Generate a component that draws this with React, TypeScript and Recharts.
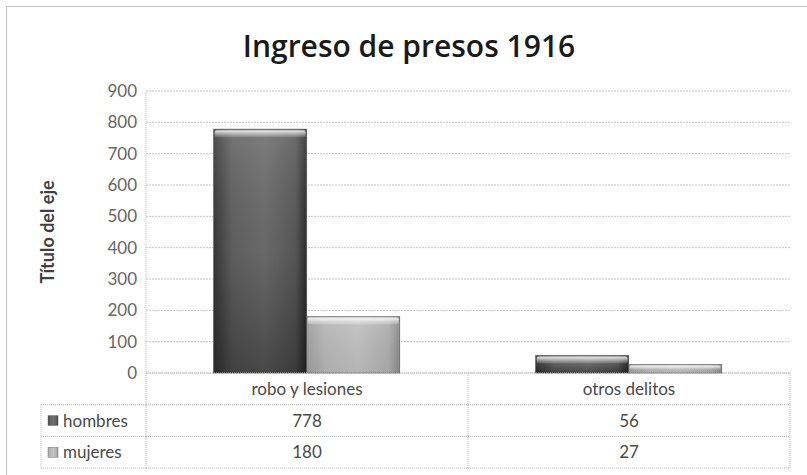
import React from "react";
import { BarChart, Bar, XAxis, YAxis, CartesianGrid } from "recharts";

const categories = ["robo y lesiones", "otros delitos"];
const hombres = [778, 56];
const mujeres = [180, 27];
const yTicks = [0, 100, 200, 300, 400, 500, 600, 700, 800, 900];

const series = [
  { key: "hombres", label: "hombres", values: hombres, grad: "gradH" },
  { key: "mujeres", label: "mujeres", values: mujeres, grad: "gradM" },
];

const data = categories.map((name, i) => ({
  name,
  hombres: hombres[i],
  mujeres: mujeres[i],
}));

const W = 807;
const H = 475;
const PLOT_LEFT = 146;
const PLOT_RIGHT = 790;
const PLOT_TOP = 91;
const PLOT_BOTTOM = 373;
const ROW_H = 31.7;
const KEY_LEFT = 41;
const CELL_W = (PLOT_RIGHT - PLOT_LEFT) / categories.length;
const FONT = "Lato, 'Open Sans', sans-serif";
const TABLE_LINE = "#b5b5b5";
const TEXT = "#4a4a4a";

function TableTick(props: any) {
  const { x, y, payload, index } = props;
  const left = x - CELL_W / 2;
  const right = x + CELL_W / 2;
  const rows = series.length + 1;
  const dash = "1 1";
  return (
    <g>
      <line x1={right} y1={y} x2={right} y2={y + rows * ROW_H} stroke={TABLE_LINE} strokeDasharray={dash} />
      {index === 0 && (
        <line x1={left} y1={y} x2={left} y2={y + rows * ROW_H} stroke={TABLE_LINE} strokeDasharray={dash} />
      )}
      {series.map((s, r) => (
        <line
          key={s.key}
          x1={left}
          y1={y + (r + 1) * ROW_H}
          x2={right}
          y2={y + (r + 1) * ROW_H}
          stroke={TABLE_LINE}
          strokeDasharray={dash}
        />
      ))}
      <line x1={left} y1={y + rows * ROW_H} x2={right} y2={y + rows * ROW_H} stroke={TABLE_LINE} strokeDasharray={dash} />
      <text x={x} y={y + ROW_H / 2} dy="0.35em" textAnchor="middle" fontSize={17} fill={TEXT} fontFamily={FONT}>
        {payload.value}
      </text>
      {series.map((s, r) => (
        <text
          key={s.key}
          x={x}
          y={y + (r + 1) * ROW_H + ROW_H / 2}
          dy="0.35em"
          textAnchor="middle"
          fontSize={17}
          fill={TEXT}
          fontFamily={FONT}
        >
          {s.values[index]}
        </text>
      ))}
      {index === 0 && (
        <g>
          <line x1={KEY_LEFT} y1={y + ROW_H} x2={left} y2={y + ROW_H} stroke={TABLE_LINE} strokeDasharray={dash} />
          <line x1={KEY_LEFT} y1={y + ROW_H} x2={KEY_LEFT} y2={y + rows * ROW_H} stroke={TABLE_LINE} strokeDasharray={dash} />
          {series.map((s, r) => {
            const cy = y + (r + 1) * ROW_H + ROW_H / 2;
            return (
              <g key={s.key}>
                <line x1={KEY_LEFT} y1={y + (r + 2) * ROW_H} x2={left} y2={y + (r + 2) * ROW_H} stroke={TABLE_LINE} strokeDasharray={dash} />
                <rect x={KEY_LEFT + 7} y={cy - 5} width={10} height={10} fill={`url(#${s.grad})`} stroke="#777" strokeWidth={0.5} />
                <text x={KEY_LEFT + 22} y={cy} dy="0.35em" fontSize={17} fill={TEXT} fontFamily={FONT}>
                  {s.label}
                </text>
              </g>
            );
          })}
        </g>
      )}
    </g>
  );
}

// bar with a side-to-side shade, a top-to-bottom darkening and a light bevel on top
function BevelBar(props: any) {
  const { x, y, width, height, grad, shade } = props;
  if (!height || height <= 0) return null;
  const bevel = Math.min(7, height * 0.45);
  return (
    <g>
      <rect x={x} y={y} width={width} height={height} fill={`url(#${grad})`} />
      <rect x={x} y={y} width={width} height={height} fill={`url(#${shade})`} />
      <rect x={x + 1} y={y + 1} width={width - 2} height={bevel} rx={2} fill="url(#bevel)" />
      <rect x={x} y={y} width={width} height={height} fill="none" stroke="#3c3c3c" strokeOpacity={0.55} strokeWidth={1} />
    </g>
  );
}

function AxisTitle(props: any) {
  const vb = props.viewBox || {};
  const cy = vb.y + vb.height / 2;
  return (
    <text x={48} y={cy} transform={`rotate(-90, 48, ${cy})`} textAnchor="middle" dy="0.35em" fontSize={18} fontWeight={700} fill="#404040" fontFamily={FONT}>
      Título del eje
    </text>
  );
}

export default function App() {
  return (
    <div style={{ position: "absolute", left: 0, top: 0, width: W, height: H, overflow: "hidden", background: "#fff" }}>
      <div
        style={{
          position: "absolute",
          left: 6,
          top: 6,
          width: W + 10,
          height: H + 10,
          border: "1px solid #c4c4c4",
          boxSizing: "border-box",
        }}
      />
      <div
        style={{
          position: "absolute",
          left: 0,
          top: 26,
          width: 818,
          textAlign: "center",
          fontFamily: "'Open Sans', sans-serif",
          fontSize: 30,
          fontWeight: 600,
          color: "#1a1a1a",
          lineHeight: "40px",
        }}
      >
        Ingreso de presos 1916
      </div>
      <div style={{ position: "absolute", left: 0, top: 0 }}>
        <BarChart
          width={W}
          height={H}
          data={data}
          margin={{ top: PLOT_TOP, right: W - PLOT_RIGHT, bottom: 0, left: 0 }}
          barCategoryGap="21%"
          barGap={0}
        >
          <defs>
            <linearGradient id="gradH" x1="0" y1="0" x2="1" y2="0">
              <stop offset="0%" stopColor="#3a3a3a" />
              <stop offset="20%" stopColor="#626262" />
              <stop offset="55%" stopColor="#6e6e6e" />
              <stop offset="88%" stopColor="#5a5a5a" />
              <stop offset="100%" stopColor="#2e2e2e" />
            </linearGradient>
            <linearGradient id="gradM" x1="0" y1="0" x2="1" y2="0">
              <stop offset="0%" stopColor="#a0a0a0" />
              <stop offset="20%" stopColor="#b8b8b8" />
              <stop offset="55%" stopColor="#c2c2c2" />
              <stop offset="88%" stopColor="#b0b0b0" />
              <stop offset="100%" stopColor="#8c8c8c" />
            </linearGradient>
            <linearGradient id="shadeH" x1="0" y1="0" x2="0" y2="1">
              <stop offset="0%" stopColor="#ffffff" stopOpacity={0.12} />
              <stop offset="50%" stopColor="#000000" stopOpacity={0.05} />
              <stop offset="100%" stopColor="#000000" stopOpacity={0.35} />
            </linearGradient>
            <linearGradient id="shadeM" x1="0" y1="0" x2="0" y2="1">
              <stop offset="0%" stopColor="#ffffff" stopOpacity={0.1} />
              <stop offset="100%" stopColor="#000000" stopOpacity={0.06} />
            </linearGradient>
            <linearGradient id="bevel" x1="0" y1="0" x2="0" y2="1">
              <stop offset="0%" stopColor="#ffffff" stopOpacity={0.85} />
              <stop offset="100%" stopColor="#ffffff" stopOpacity={0.1} />
            </linearGradient>
          </defs>
          <CartesianGrid vertical={false} stroke="#c4c4c4" strokeDasharray="2 1" />
          <XAxis
            dataKey="name"
            height={H - PLOT_BOTTOM}
            tickLine={false}
            tickSize={0}
            tickMargin={0}
            axisLine={{ stroke: "#b5b5b5", strokeDasharray: "1 1" }}
            tick={<TableTick />}
            interval={0}
          />
          <YAxis
            width={PLOT_LEFT}
            domain={[0, 900]}
            ticks={yTicks}
            interval={0}
            tickLine={false}
            tickSize={0}
            tickMargin={9}
            axisLine={{ stroke: "#c4c4c4", strokeDasharray: "1 1" }}
            tick={{ fontSize: 17, fill: "#666666", fontFamily: FONT }}
            label={<AxisTitle />}
          />
          <Bar dataKey="hombres" isAnimationActive={false} shape={(p: any) => <BevelBar {...p} grad="gradH" shade="shadeH" />} />
          <Bar dataKey="mujeres" isAnimationActive={false} shape={(p: any) => <BevelBar {...p} grad="gradM" shade="shadeM" />} />
        </BarChart>
      </div>
    </div>
  );
}
